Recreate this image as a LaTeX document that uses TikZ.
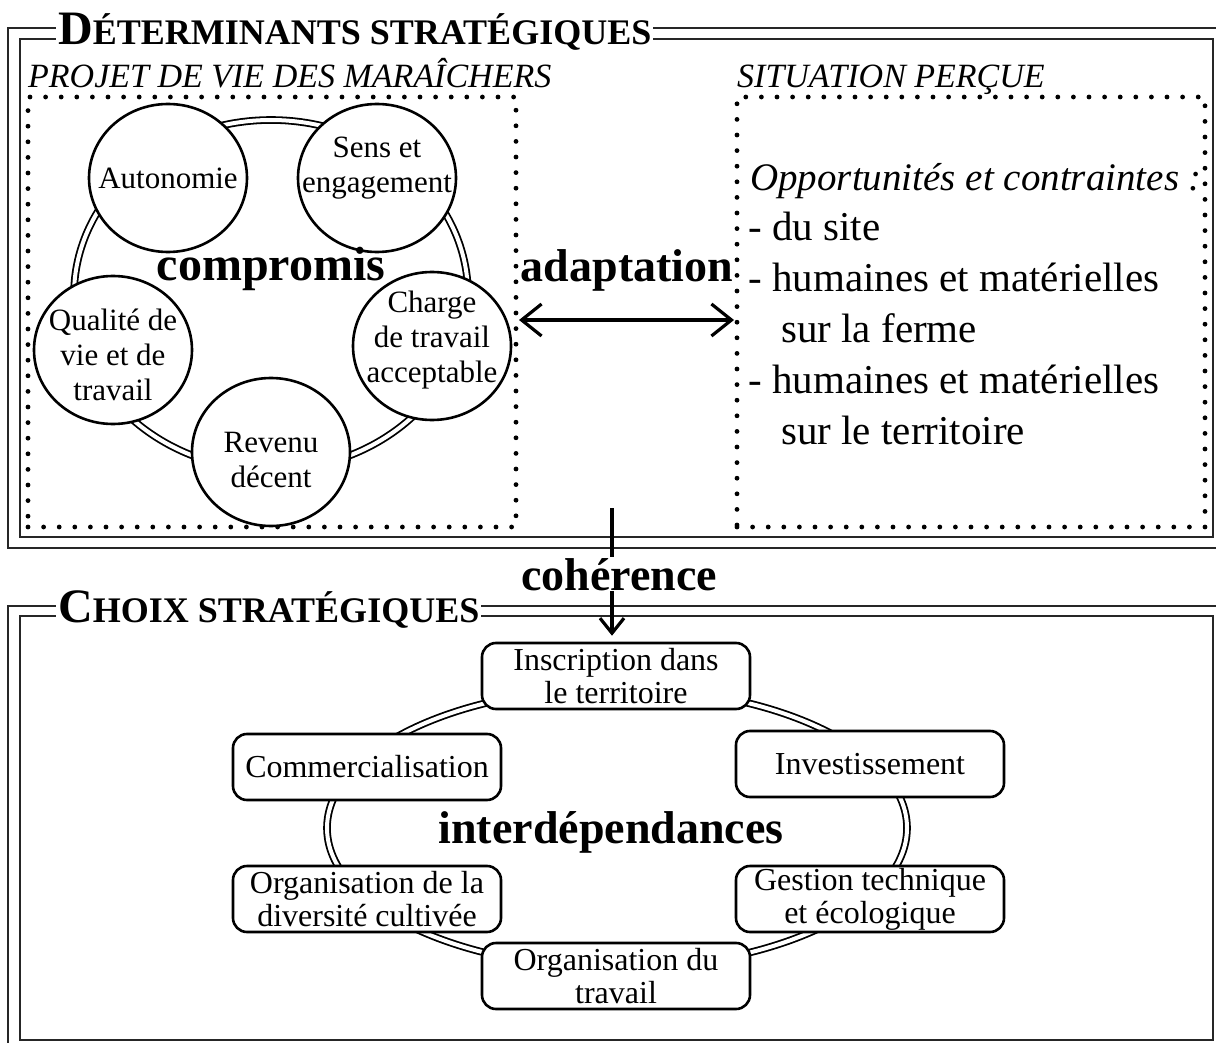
\documentclass[tikz,border=0pt]{standalone}
\usepackage{fontspec}
\setmainfont{Liberation Serif}
\usetikzlibrary{arrows.meta,shapes.geometric}
\begin{document}
\begin{tikzpicture}[x=1pt,y=-1pt,
  frameline/.style={draw=black!85, line width=2.5pt},
  dotbox/.style={draw, line width=4.8pt, line cap=round, dash pattern=on 0pt off 15.6pt, inner sep=0pt},
  bubble/.style={draw, fill=white, ellipse, line width=2.6pt, minimum width=158pt, minimum height=148pt, inner sep=0pt},
  bubtxt/.style={align=center, font=\fontsize{31}{35}\selectfont, inner sep=0pt},
  choice/.style={draw, fill=white, rounded corners=14pt, line width=2.6pt, minimum width=268pt, minimum height=66pt, inner sep=0pt, align=center, font=\fontsize{32}{33}\selectfont},
  ring/.style={draw, ellipse, double, double distance=4pt, line width=1.8pt, inner sep=0pt},
  keyword/.style={font=\bfseries\fontsize{46}{46}\selectfont, inner sep=0pt, anchor=base},
  maintitle/.style={font=\bfseries\fontsize{36}{36}\selectfont, fill=white, inner sep=2pt, anchor=base west},
  subtitle/.style={font=\itshape\fontsize{34}{34}\selectfont, inner sep=0pt, anchor=base west},
  sittxt/.style={font=\fontsize{41}{41}\selectfont, inner sep=0pt, anchor=base west},
  bigarrow/.style={line width=3.2pt, {Straight Barb[length=20pt, width=32pt, line width=3.2pt]}-{Straight Barb[length=20pt, width=32pt, line width=3.2pt]}},
  downarrow/.style={line width=3.2pt, -{Straight Barb[length=15pt, width=24pt, line width=3.2pt]}}
]
\useasboundingbox (0,0) rectangle (1216,1043);

% frames
\draw[frameline] (8,28) rectangle (1240,548);
\draw[frameline] (20,39) rectangle (1213,537);
\draw[frameline] (8,606) rectangle (1240,1070);
\draw[frameline] (20,616) rectangle (1213,1040);

% titles
\node[maintitle] (t1) at (56,45) {{\fontsize{48}{48}\selectfont D}ÉTERMINANTS STRATÉGIQUES};
\node[maintitle] (t2) at (56,622) {{\fontsize{48}{48}\selectfont C}HOIX STRATÉGIQUES};

% dotted boxes and their headings
\node[dotbox, minimum width=488pt, minimum height=430pt] (projet) at (272,312) {};
\node[dotbox, minimum width=468pt, minimum height=430pt] (situation) at (971,312) {};
\node[subtitle] (s1) at (28,88) {PROJET DE VIE DES MARAÎCHERS};
\node[subtitle] (s2) at (737,88) {SITUATION PERÇUE};

% compromis ring
\node[ring, minimum width=394pt, minimum height=350pt] (ringA) at (271,295) {};
\node[bubble] (b1) at (168,178) {};
\node[bubble] (b2) at (377,178) {};
\node[bubble] (b3) at (432,346) {};
\node[bubble] (b4) at (271,452) {};
\node[bubble] (b5) at (113,350) {};
\node[bubtxt] (l1) at (b1.center) {Autonomie};
\node[bubtxt] (l2) at (377,168) {Sens et\\engagement};
\node[bubtxt] (l3) at (432,340) {Charge\\de travail\\acceptable};
\node[bubtxt] (l4) at (271,460) {Revenu\\décent};
\node[bubtxt] (l5) at (113,355) {Qualité de\\vie et de\\travail};
\node[keyword, font=\bfseries\fontsize{48}{48}\selectfont] (kc) at (271,280) {compromis};

% situation text
\node[sittxt, font=\itshape\fontsize{39}{39}\selectfont] (o1) at (750,191) {Opportunités et contraintes :};
\node[sittxt] (o2) at (748,241) {- du site};
\node[sittxt] (o3) at (748,291) {- humaines et matérielles};
\node[sittxt] (o4) at (781,342) {sur la ferme};
\node[sittxt] (o5) at (748,393) {- humaines et matérielles};
\node[sittxt] (o6) at (781,444) {sur le territoire};

% adaptation
\node[keyword] (ka) at (627,282) {adaptation};
\coordinate (aL) at (519,320);
\coordinate (aR) at (734,320);
\draw[bigarrow] (aL) -- (aR);

% choix ring
\node[ring, minimum width=580pt, minimum height=280pt] (ringB) at (617,828) {};
\node[choice] (c1) at (616,676) {Inscription dans\\le territoire};
\node[choice] (c2) at (367,767) {Commercialisation};
\node[choice] (c3) at (870,764) {Investissement};
\node[choice] (c4) at (367,899) {Organisation de la\\diversité cultivée};
\node[choice] (c5) at (870,899) {Gestion technique\\et écologique};
\node[choice] (c6) at (616,976) {Organisation du\\travail};
\node[keyword] (ki) at (611,843) {interdépendances};

% coherence
\coordinate (cohstart) at (612,508);
\draw[downarrow, shorten >=6pt] (cohstart) -- (cohstart |- c1.north);
\node[keyword, fill=white, inner sep=1pt] (kh) at (619,590) {cohérence};
\end{tikzpicture}
\end{document}
